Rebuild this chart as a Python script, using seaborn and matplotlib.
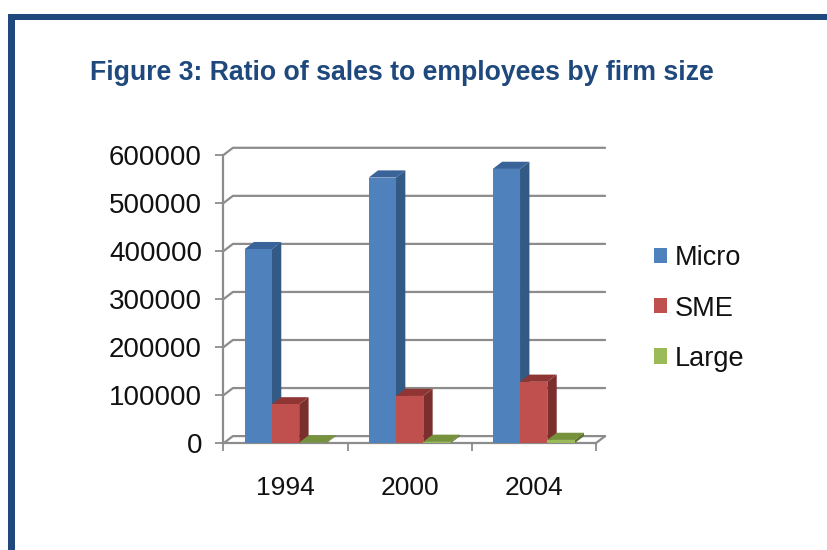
import matplotlib
matplotlib.use("Agg")
import matplotlib.pyplot as plt
from matplotlib.patches import Polygon, Rectangle, Patch
from matplotlib.lines import Line2D
import pandas as pd
import seaborn as sns

years = ["1994", "2000", "2004"]
firms = ["Micro", "SME", "Large"]
micro = [404000, 553000, 571000]
sme = [81000, 98500, 128000]
large = [1500, 3000, 7000]
y_ticks = [0, 100000, 200000, 300000, 400000, 500000, 600000]
title = "Figure 3: Ratio of sales to employees by firm size"

front_colors = ["#4F81BD", "#C0504D", "#9BBB59"]
side_colors = ["#335A85", "#7A2F2D", "#5F7530"]
top_colors = ["#3A6399", "#8F3533", "#76923C"]
border = "#1F497D"
grid = "#8C8C8C"

sns.set_theme(style="white")
plt.rcParams["font.family"] = ["Liberation Sans", "DejaVu Sans"]

W, H = 828, 550
fig = plt.figure(figsize=(W / 100, H / 100), dpi=100)
ax = fig.add_axes([223.5 / W, 1 - 443.3 / H, 372.2 / W, 288.3 / H])

df = pd.DataFrame({
    "Year": years * 3,
    "Firm": [f for f in firms for _ in years],
    "Ratio": micro + sme + large,
})
sns.barplot(data=df, x="Year", y="Ratio", hue="Firm", hue_order=firms,
            palette=front_colors, saturation=1, width=0.66, gap=0,
            legend=False, ax=ax, linewidth=0)
ax.set_xlim(-0.5, 2.5)
ax.set_ylim(0, 600000)
ax.set_xlabel("")
ax.set_ylabel("")
ax.set_facecolor("none")

# oblique depth of the fake 3-D box, in data units
dx = 9.4 / (372.2 / 3)
dy = 7.2 / (288.3 / 600000)

# back wall gridlines, joined to the front axis by short diagonals
for v in y_ticks:
    ax.add_line(Line2D([-0.5, -0.5 + dx, 2.5 + dx], [v, v + dy, v + dy], color=grid,
                       lw=1.6, clip_on=False, zorder=1))
ax.add_line(Line2D([2.5, 2.5 + dx], [0, dy], color=grid, lw=1.6, clip_on=False, zorder=1))

# side and top faces computed from each bar drawn by seaborn
for i, container in enumerate(ax.containers):
    for bar in container:
        x0, w, h = bar.get_x(), bar.get_width(), bar.get_height()
        x1 = x0 + w
        bar.set_zorder(3 + i + 0.5)
        bar.set_clip_on(False)
        ax.add_patch(Polygon([(x1, 0), (x1 + dx, dy), (x1 + dx, h + dy), (x1, h)],
                             closed=True, fc=side_colors[i], ec="none",
                             clip_on=False, zorder=3 + i))
        ax.add_patch(Polygon([(x0, h), (x0 + dx, h + dy), (x1 + dx, h + dy), (x1, h)],
                             closed=True, fc=top_colors[i], ec="none",
                             clip_on=False, zorder=3 + i))

for s in ["top", "right"]:
    ax.spines[s].set_visible(False)
for s in ["left", "bottom"]:
    ax.spines[s].set_visible(True)
    ax.spines[s].set_color(grid)
    ax.spines[s].set_linewidth(1.6)
    ax.spines[s].set_zorder(2)

ax.set_yticks(y_ticks)
ax.set_yticklabels([str(v) for v in y_ticks])
ax.set_xticks([-0.5, 0.5, 1.5, 2.5], minor=True)
ax.tick_params(axis="x", which="minor", bottom=True, length=5.5, width=1.3, color=grid)
ax.tick_params(axis="x", which="major", bottom=False, pad=17.5, labelsize=19,
               labelcolor="#111111")
ax.tick_params(axis="y", left=True, length=5.5, width=1.3, color=grid, pad=10,
               labelsize=20, labelcolor="#111111")

handles = [Patch(fc=c, ec="none") for c in front_colors]
ax.legend(handles, firms, loc="center left", bbox_to_anchor=(654 / W, 1 - 308.5 / H),
          bbox_transform=fig.transFigure, frameon=False, fontsize=19.5,
          handlelength=0.48, handleheight=0.48, handletextpad=0.28,
          labelspacing=0.89, borderpad=0, borderaxespad=0, labelcolor="#111111")

fig.text(90 / W, 1 - 73.5 / H, title, color=border, fontsize=19.2, fontweight="bold",
         ha="left", va="center")

# page frame: top and left rules
fig.add_artist(Rectangle((8.4 / W, 1 - 19.8 / H), 1 - 8.4 / W, 5.8 / H,
                         transform=fig.transFigure, fc=border, ec="none"))
fig.add_artist(Rectangle((8.4 / W, 0), 6.6 / W, 1 - 14 / H,
                         transform=fig.transFigure, fc=border, ec="none"))

fig.savefig("out.png", dpi=100, facecolor="white")
